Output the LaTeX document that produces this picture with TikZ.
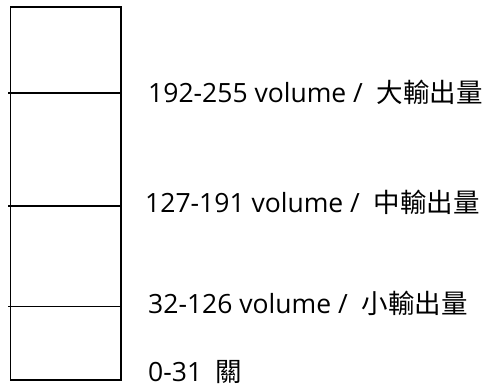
\documentclass[tikz,border=0pt]{standalone}
\usepackage{fontspec}
\setmainfont{Open Sans}
\newfontfamily\cjk{Noto Sans CJK TC}
\begin{document}
\begin{tikzpicture}[x=1pt,y=-1pt,
  lbl/.style={anchor=west,inner sep=0pt,font=\fontsize{26.5}{30}\selectfont},
  sep/.style={line width=1.8pt},
  box/.style={draw,line width=1.8pt}]
\useasboundingbox (0,0) rectangle (488,390);
\node[box,minimum width=110.5pt,minimum height=373.5pt,inner sep=0pt,anchor=north west] (col) at (9.5,6) {};
\coordinate (l1a) at (8,93);   \coordinate (l1b) at (col.east |- 0,93);
\coordinate (l2a) at (8,205.7); \coordinate (l2b) at (col.east |- 0,205.7);
\coordinate (l3a) at (8,306.5); \coordinate (l3b) at (col.east |- 0,306.5);
\draw[sep] (l1a) -- (l1b);
\draw[sep] (l2a) -- (l2b);
\draw[sep] (l3a) -- (l3b);
\node[lbl] (t1) at (148,92) {192-255 volume /\ \ {\cjk 大輸出量}};
\node[lbl] (t2) at (145,202) {127-191 volume /\ \ {\cjk 中輸出量}};
\node[lbl] (t3) at (148,303) {32-126 volume /\ \ {\cjk 小輸出量}};
\node[lbl] (t4) at (148,372) {0-31\ \ {\cjk 關}};
\end{tikzpicture}
\end{document}
